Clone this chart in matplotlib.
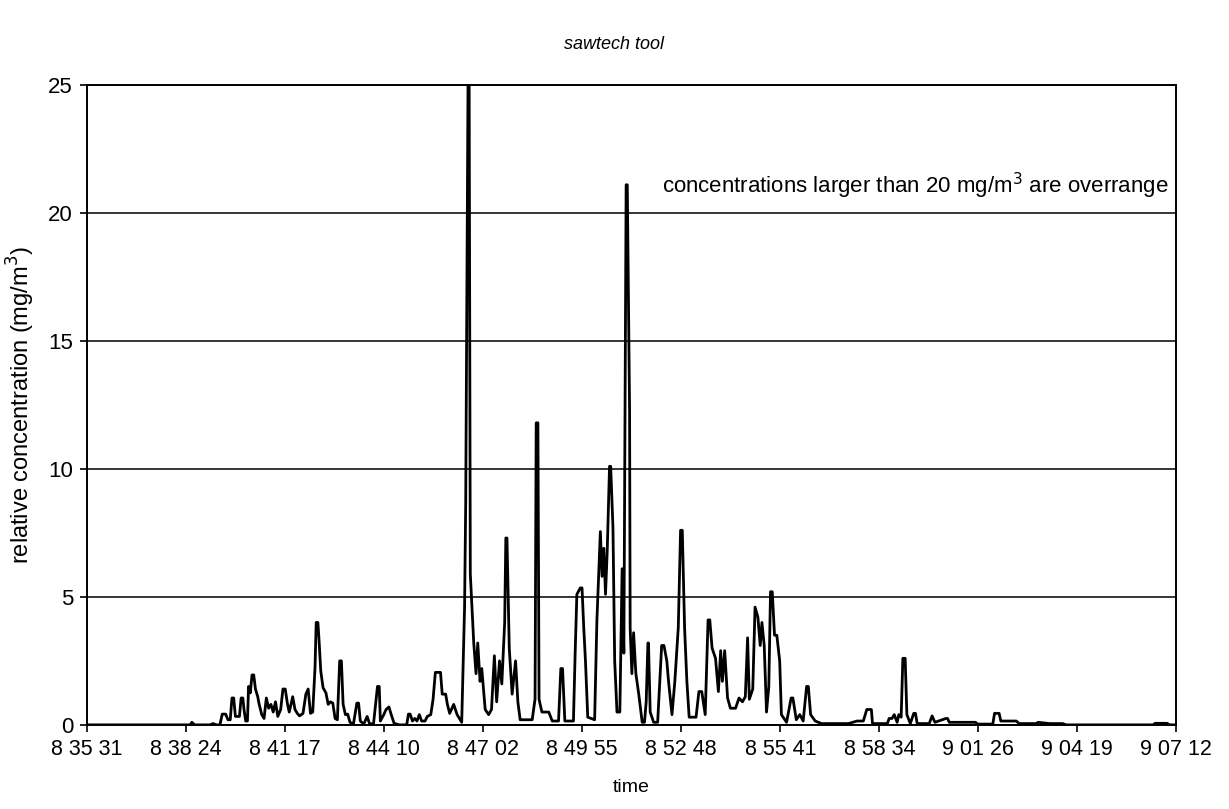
import numpy as np
import matplotlib
matplotlib.use("Agg")
import matplotlib.pyplot as plt

plt.rcParams['font.family'] = ['Liberation Sans', 'DejaVu Sans']

# seconds after 8:35:31
t_sec = [0, 180, 183, 188, 215, 220, 226, 232, 236, 242, 246, 250, 253, 256, 259, 266, 269, 272,
         274, 277, 280, 282, 285, 288, 291, 294, 298, 300, 305, 309, 313, 317, 321, 325, 329, 333,
         338, 342, 346, 350, 353, 359, 363, 367, 371, 377, 382, 386, 390, 394, 398, 400, 403, 405,
         408, 412, 417, 421, 425, 429, 433, 437, 441, 444, 447, 451, 455, 459, 465, 471, 474, 477,
         483, 489, 493, 500, 507, 510, 512, 518, 522, 527, 531, 536, 545, 558, 561, 564, 568, 572,
         576, 580, 584, 590, 594, 600, 604, 608, 617, 620, 626, 629, 633, 640, 646, 654, 659, 661,
         665, 667, 669, 675, 679, 682, 686, 689, 695, 701, 706, 711, 715, 720, 724, 729, 731, 733,
         735, 737, 742, 748, 752, 756, 777, 782, 784, 787, 789, 794, 806, 812, 823, 827, 830, 834,
         849, 852, 855, 861, 864, 867, 870, 874, 886, 890, 896, 899, 902, 905, 908, 912, 914, 918,
         921, 925, 930, 934, 937, 941, 943, 947, 948, 951, 954, 958, 963, 969, 973, 976, 979, 980,
         983, 989, 996, 1003, 1007, 1012, 1015, 1021, 1026, 1032, 1036, 1039, 1043, 1047, 1051,
         1063, 1068, 1073, 1079, 1084, 1087, 1091, 1097, 1102, 1106, 1109, 1113, 1118, 1123, 1132,
         1138, 1144, 1149, 1153, 1156, 1162, 1166, 1171, 1175, 1178, 1182, 1186, 1190, 1193, 1196,
         1200, 1204, 1209, 1212, 1221, 1229, 1232, 1238, 1244, 1250, 1256, 1259, 1263, 1271, 1282,
         1329, 1344, 1355, 1361, 1369, 1371, 1397, 1400, 1405, 1409, 1414, 1417, 1421, 1424, 1428,
         1431, 1437, 1443, 1446, 1449, 1470, 1475, 1480, 1499, 1502, 1505, 1551, 1554, 1581, 1584,
         1592, 1595, 1622, 1627, 1657, 1660, 1680, 1703, 1709, 1861, 1864, 1885, 1890, 1901]

conc = [0, 0, 0.1, 0, 0, 0.05, 0, 0, 0.42, 0.42, 0.2, 0.2, 1.05, 1.05, 0.33, 0.33, 1.05, 1.05,
        0.6, 0.15, 0.15, 1.5, 1.25, 1.95, 1.95, 1.4, 1.1, 0.85, 0.4, 0.25, 1.05, 0.65, 0.8, 0.5, 0.9, 0.33,
        0.6, 1.4, 1.4, 0.8, 0.5, 1.1, 0.6, 0.45, 0.35, 0.45, 1.2, 1.4, 0.45, 0.5, 2.25, 4.0, 4.0, 3.3,
        2.1, 1.45, 1.25, 0.8, 0.9, 0.85, 0.25, 0.2, 2.5, 2.5, 0.8, 0.4, 0.42, 0.1, 0.03, 0.85, 0.85, 0.15,
        0.03, 0.33, 0.05, 0.03, 1.5, 1.5, 0.15, 0.4, 0.6, 0.7, 0.4, 0.06, 0, 0, 0.42, 0.42, 0.15, 0.25,
        0.15, 0.4, 0.15, 0.15, 0.33, 0.4, 1.0, 2.05, 2.05, 1.2, 1.2, 0.8, 0.45, 0.8, 0.4, 0.1, 4.6, 8.7,
        25, 25, 5.9, 3.2, 2.0, 3.2, 1.7, 2.2, 0.6, 0.4, 0.6, 2.7, 0.9, 2.5, 1.6, 4.0, 7.3, 7.3,
        5.1, 3.0, 1.2, 2.5, 0.9, 0.2, 0.2, 1.0, 11.8, 11.8, 1.0, 0.5, 0.5, 0.15, 0.15, 2.2, 2.2, 0.15,
        0.15, 2.8, 5.1, 5.35, 5.35, 3.8, 2.5, 0.3, 0.2, 4.1, 7.55, 5.8, 6.9, 5.1, 6.8, 10.1, 10.1, 7.7,
        2.5, 0.5, 0.5, 6.1, 2.8, 21.1, 21.1, 12.3, 3.8, 2.0, 3.6, 2.0, 1.2, 0.1, 0.1, 0.9, 3.2, 3.2,
        0.5, 0.1, 0.1, 3.1, 3.1, 2.5, 1.7, 0.4, 1.7, 3.8, 7.6, 7.6, 3.8, 1.7, 0.3,
        0.3, 1.3, 1.3, 0.4, 4.1, 4.1, 3.0, 2.6, 1.3, 2.9, 1.7, 2.9, 1.05, 0.65, 0.65,
        1.05, 0.9, 1.1, 3.4, 1.0, 1.4, 4.6, 4.2, 3.1, 4.0, 3.1, 0.5, 1.5, 5.2, 5.2,
        3.5, 3.5, 2.5, 0.4, 0.1, 1.05, 1.05, 0.2, 0.4, 0.15, 1.5, 1.5, 0.4, 0.15, 0.05,
        0.05, 0.15, 0.15, 0.6, 0.6, 0.05, 0.05, 0.25, 0.25, 0.4, 0.1, 0.4, 0.3, 2.6, 2.6,
        0.4, 0.05, 0.45, 0.45, 0.05, 0.05, 0.35, 0.1, 0.25, 0.25, 0.1, 0.1, 0.03, 0.03, 0.45,
        0.45, 0.15, 0.15, 0.05, 0.05, 0.1, 0.05, 0.05, 0, 0, 0.06, 0.06, 0, 0]

tick_labels = ["8 35 31", "8 38 24", "8 41 17", "8 44 10", "8 47 02", "8 49 55",
               "8 52 48", "8 55 41", "8 58 34", "9 01 26", "9 04 19", "9 07 12"]


def to_sec(s):
    h, m, sec = [int(p) for p in s.split()]
    return h * 3600 + m * 60 + sec


t0 = to_sec(tick_labels[0])
tick_pos = [to_sec(s) - t0 for s in tick_labels]

fig = plt.figure(figsize=(12.29, 8.09), dpi=100)
ax = fig.add_axes([0.0708, 0.104, 0.8862, 0.791])

ax.plot(t_sec, conc, color="black", lw=2)

ax.set_xlim(tick_pos[0], tick_pos[-1])
ax.set_ylim(0, 25)
ax.set_xticks(tick_pos)
ax.set_xticklabels(tick_labels, fontsize=15.5)
ax.set_yticks([0, 5, 10, 15, 20, 25])
ax.set_yticklabels(["0", "5", "10", "15", "20", "25"], fontsize=16)
ax.tick_params(direction="out", length=5, width=1.2, colors="black", pad=5)
ax.yaxis.grid(True, color="black", lw=1.1)
ax.set_axisbelow(True)
for sp in ax.spines.values():
    sp.set_color("black")
    sp.set_linewidth(1.4)

ax.set_xlabel("time", fontsize=14, labelpad=14)
ax.set_ylabel("relative concentration (mg/m$^3$)", fontsize=17, labelpad=8)

ax.text(0.993, 20.45, "concentrations larger than 20 mg/m$^3$ are overrange",
        transform=ax.get_yaxis_transform(), ha="right", va="bottom", fontsize=16)

fig.text(0.5, 0.945, "sawtech tool", ha="center", va="center", fontsize=13, style="italic")

fig.savefig("out.png", dpi=100, facecolor="white")
